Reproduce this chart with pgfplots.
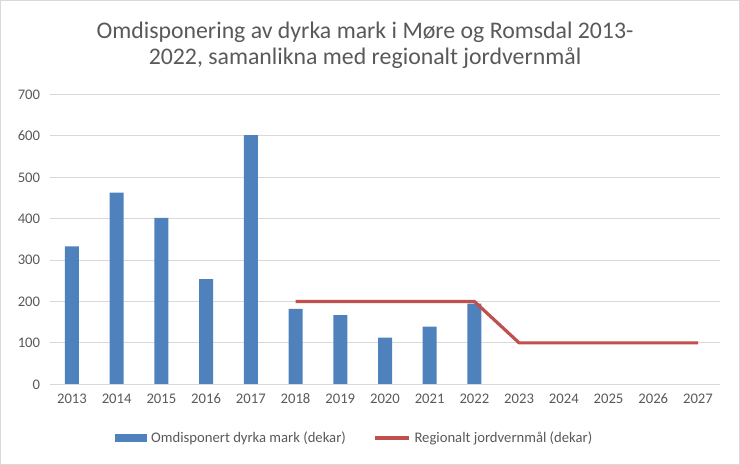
\documentclass[border=0pt]{standalone}
\usepackage{pgfplots}
\pgfplotsset{compat=1.18}
\usepackage{fontspec}
\setmainfont{Carlito}
\definecolor{barblue}{HTML}{4F81BD}
\definecolor{linered}{HTML}{C0504D}
\definecolor{txt}{HTML}{595959}
\definecolor{gridc}{HTML}{D9D9D9}
\begin{document}
\begin{tikzpicture}[x=1pt,y=1pt]
\useasboundingbox (0,0) rectangle (740,465);
\draw[gridc, line width=1pt] (0.5,0.5) rectangle (739.5,464.5);
\begin{axis}[
  at={(49.6pt,80.7pt)}, anchor=south west,
  scale only axis, width=670.8pt, height=289.8pt,
  xmin=2012.5, xmax=2027.5, ymin=0, ymax=700,
  xtick={2013,2014,...,2027}, ytick={0,100,...,700},
  axis line style={draw=none},
  major tick length=0pt,
  ymajorgrids, grid style={gridc, line width=1pt},
  /pgf/number format/1000 sep={},
  /pgf/number format/assume math mode=true,
  tick label style={font=\fontsize{14.67}{16}\selectfont, text=txt},
  yticklabel style={xshift=-6pt},
  xticklabel style={yshift=-6pt},
  legend style={at={(0.4545,-0.185)}, anchor=center, draw=none, fill=none,
    legend columns=2, font=\fontsize{14.67}{16}\selectfont, text=txt,
    /tikz/every even column/.append style={column sep=26pt}},
  clip=false,
]
\addplot[ybar, bar width=14pt, fill=barblue, draw=none,
  legend image code/.code={\fill[barblue] (0pt,-4pt) rectangle (32pt,4pt);
    \path (34.5pt,0pt);}]
  coordinates {(2013,333) (2014,463) (2015,402) (2016,254) (2017,602)
               (2018,182) (2019,167) (2020,113) (2021,139) (2022,195)};
\addlegendentry{Omdisponert dyrka mark (dekar)}
\addplot[linered, line width=3.2pt, mark=none,
  legend image code/.code={\draw[linered, line width=3.2pt] (0pt,0pt) -- (34pt,0pt);
    \path (35.5pt,0pt);}]
  coordinates {(2018,200) (2019,200) (2020,200) (2021,200) (2022,200)
               (2023,100) (2024,100) (2025,100) (2026,100) (2027,100)};
\addlegendentry{Regionalt jordvernmål (dekar)}
\draw[gridc, line width=1pt] (axis cs:2012.5,0) -- (axis cs:2027.5,0);
\end{axis}
\node[anchor=base, text=txt, font=\fontsize{23.8}{27}\selectfont, inner sep=0pt] at (365,426.7)
  {Omdisponering av dyrka mark i Møre og Romsdal 2013-};
\node[anchor=base, text=txt, font=\fontsize{23.8}{27}\selectfont, inner sep=0pt] at (365,400.7)
  {2022, samanlikna med regionalt jordvernmål};
\end{tikzpicture}
\end{document}
